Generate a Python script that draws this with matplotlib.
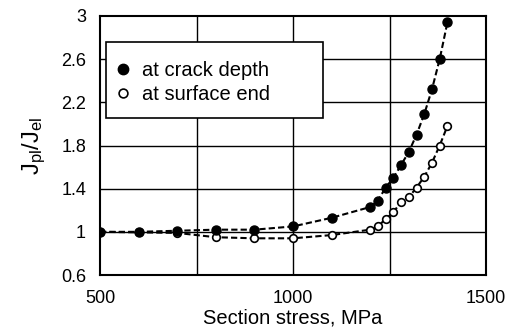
import matplotlib
matplotlib.use("Agg")
import matplotlib.pyplot as plt
from matplotlib.patches import Rectangle

plt.rcParams['font.family'] = ['Liberation Sans', 'DejaVu Sans']
plt.rcParams['mathtext.fontset'] = 'custom'
plt.rcParams['mathtext.rm'] = 'Liberation Sans'
plt.rcParams['mathtext.it'] = 'Liberation Sans'

stress_depth = [500, 600, 700, 800, 900, 1000, 1100, 1200, 1220, 1240, 1260, 1280,
                1300, 1320, 1340, 1360, 1380, 1400]
j_depth = [1.00, 1.00, 1.01, 1.02, 1.02, 1.05, 1.13, 1.23, 1.29, 1.41, 1.50, 1.62,
           1.74, 1.90, 2.09, 2.32, 2.60, 2.94]

stress_surf = [500, 600, 700, 800, 900, 1000, 1100, 1200, 1220, 1240, 1260, 1280,
               1300, 1320, 1340, 1360, 1380, 1400]
j_surf = [1.00, 0.995, 0.99, 0.95, 0.94, 0.94, 0.97, 1.02, 1.05, 1.12, 1.18, 1.28,
          1.32, 1.41, 1.51, 1.64, 1.80, 1.98]

x_ticks = [500, 1000, 1500]
x_grid = [750, 1000, 1250]
y_ticks = [0.6, 1.0, 1.4, 1.8, 2.2, 2.6, 3.0]
y_labels = ['0.6', '1', '1.4', '1.8', '2.2', '2.6', '3']

fig = plt.figure(figsize=(5.11, 3.29), dpi=100)
ax = fig.add_axes([100/511, 1 - 275/329, 386/511, 259/329])

for g in x_grid:
    ax.axvline(g, color='black', lw=1.0, zorder=1)
for g in y_ticks[1:-1]:
    ax.axhline(g, color='black', lw=1.0, zorder=1)

ax.plot(stress_surf, j_surf, linestyle=(0, (3, 1.5)), color='black', lw=1.5,
        marker='o', markersize=5.5, markerfacecolor='white', markeredgecolor='black',
        markeredgewidth=1.2, label='at surface end', zorder=3)
ax.plot(stress_depth, j_depth, linestyle=(0, (3, 1.5)), color='black', lw=1.5,
        marker='o', markersize=6.5, markerfacecolor='black', markeredgecolor='black',
        label='at crack depth', zorder=4)

ax.set_xlim(500, 1500)
ax.set_ylim(0.6, 3.0)
ax.set_xticks(x_ticks)
ax.set_yticks(y_ticks)
ax.set_yticklabels(y_labels)
ax.tick_params(axis='y', length=0, labelsize=13, pad=10)
ax.tick_params(axis='x', length=0, labelsize=13, pad=11)
for s in ax.spines.values():
    s.set_linewidth(1.5)
    s.set_zorder(6)

ax.set_xlabel('Section stress, MPa', fontsize=14.5, labelpad=1)
ax.set_ylabel(r'$\mathregular{J_{pl}/J_{el}}$', fontsize=17, labelpad=9)

# legend box
box = Rectangle((6/386, (275 - 118)/259), (323 - 106)/386, (118 - 42)/259,
                transform=ax.transAxes, facecolor='white', edgecolor='black',
                lw=1.2, zorder=5)
ax.add_patch(box)

handles, labels = ax.get_legend_handles_labels()
leg = ax.legend(handles[::-1], labels[::-1], loc='center left',
                bbox_to_anchor=((117 - 100)/386, (275 - 82.5)/259), fontsize=14.5,
                frameon=False, handlelength=0.6, handletextpad=0.65,
                borderpad=0, borderaxespad=0, labelspacing=0.25, markerscale=1.15)
leg.set_zorder(7)
for h in leg.legend_handles:
    h.set_linestyle('None')

fig.savefig('out.png', dpi=100)
